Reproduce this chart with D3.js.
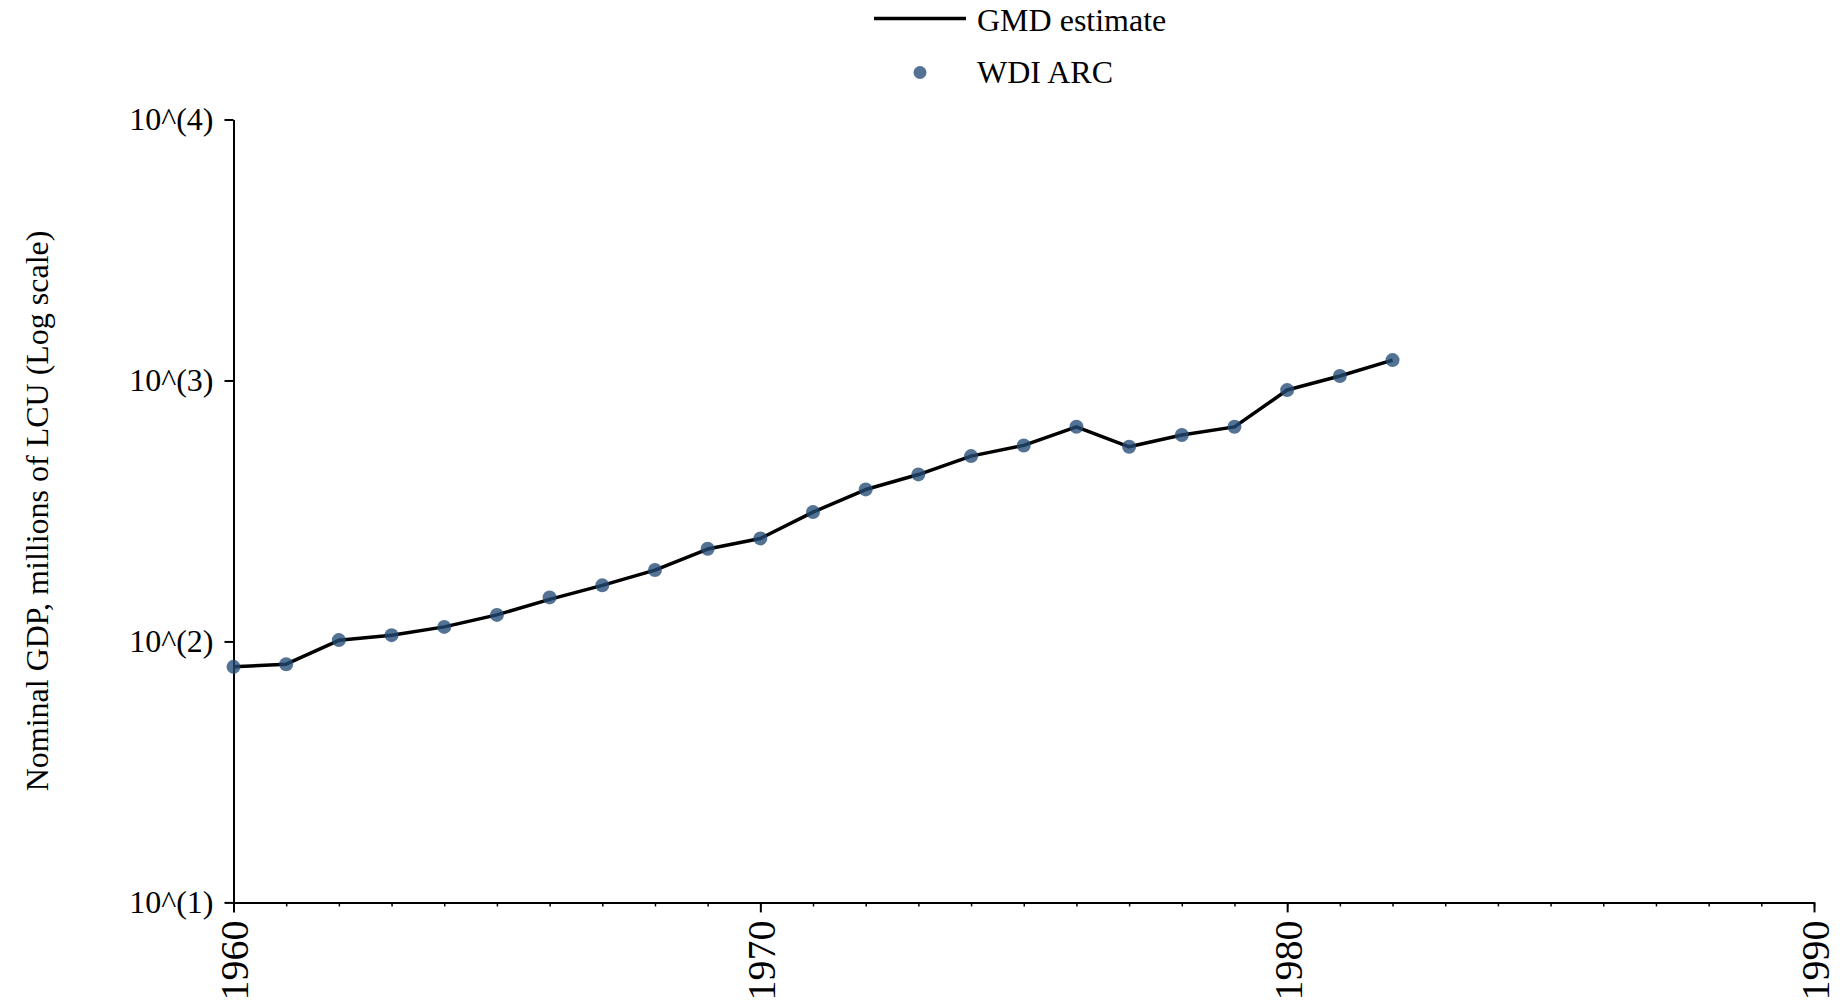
<!DOCTYPE html>
<html>
<head>
<meta charset="utf-8">
<script src="https://cdn.jsdelivr.net/npm/d3@7"></script>
<style>
  html, body { margin: 0; padding: 0; background: #fff; }
  svg { display: block; font-family: "Liberation Serif", "Times New Roman", serif; }
</style>
</head>
<body>
<div id="chart"></div>
<script>
// data ---------------------------------------------------------------------------------------
const years = [1960, 1961, 1962, 1963, 1964, 1965, 1966, 1967, 1968, 1969, 1970, 1971,
  1972, 1973, 1974, 1975, 1976, 1977, 1978, 1979, 1980, 1981, 1982];
// GMD estimate (line), millions of LCU
const gmdValues = [79.9, 81.8, 101, 105.7, 113.7, 126.4, 145, 164, 187.7, 226, 248, 313,
  382, 436, 513, 564, 664, 557, 618, 664, 919, 1040, 1197];
// WDI ARC (points)
const wdiValues = [79.9, 81.8, 101.2, 105.7, 113.7, 126.4, 147.5, 164, 187.7, 226.4, 248.2, 313,
  382.4, 436.5, 513, 563.6, 664.5, 557, 618, 664.5, 918.6, 1040, 1197];
const yTicks = [10, 100, 1000, 10000];
const xMajorTicks = [1960, 1970, 1980, 1990];
const xMinorTicks = d3.range(1960, 1991, 1);
const legendLabels = ['GMD estimate', 'WDI ARC'];
const yTitle = 'Nominal GDP, millions of LCU (Log scale)';

// svg ----------------------------------------------------------------------------------------
const width = 1840;
const height = 1008;
const margin = { top: 119.5, bottom: 105.6, left: 233.5, right: 26 };
const pointColor = 'rgb(36,74,118)';
const serif = '"Liberation Serif", "Times New Roman", serif';

const svg = d3.select('#chart').append('svg')
  .attr('width', width)
  .attr('height', height);

// scales -------------------------------------------------------------------------------------
const xScale = d3.scaleLinear()
  .domain([1960, 1990])
  .range([margin.left, width - margin.right]);
const yScale = d3.scaleLog()
  .domain([10, 10000])
  .range([height - margin.bottom, margin.top]);

// y axis -------------------------------------------------------------------------------------
const yAxis = svg.append('g')
  .attr('transform', 'translate(' + margin.left + ',0)')
  .call(d3.axisLeft(yScale)
    .tickValues(yTicks)
    .tickSize(9)
    .tickSizeOuter(0)
    .tickPadding(11)
    .tickFormat(d => '10^(' + Math.round(Math.log10(d)) + ')'));
yAxis.select('.domain').attr('stroke-width', 2);
yAxis.selectAll('.tick line').attr('stroke-width', 2);
yAxis.selectAll('.tick text')
  .attr('font-size', '32px')
  .attr('font-family', serif)
  .attr('fill', '#000');

// x axis (minor) -----------------------------------------------------------------------------
const xMinor = svg.append('g')
  .attr('transform', 'translate(0,' + (height - margin.bottom) + ')')
  .call(d3.axisBottom(xScale)
    .tickValues(xMinorTicks)
    .tickSize(4)
    .tickSizeOuter(0)
    .tickFormat(''));
xMinor.select('.domain').attr('stroke-width', 2);
xMinor.selectAll('.tick line').attr('stroke-width', 1.5);

// x axis (major) -----------------------------------------------------------------------------
const xMajor = svg.append('g')
  .attr('transform', 'translate(0,' + (height - margin.bottom) + ')')
  .call(d3.axisBottom(xScale)
    .tickValues(xMajorTicks)
    .tickSize(10)
    .tickSizeOuter(0)
    .tickFormat(d3.format('d')));
xMajor.select('.domain').remove();
xMajor.selectAll('.tick line').attr('stroke-width', 2);
xMajor.selectAll('.tick text')
  .attr('font-size', '40px')
  .attr('font-family', serif)
  .attr('fill', '#000')
  .attr('transform', 'rotate(-90)')
  .attr('text-anchor', 'end')
  .attr('x', -18)
  .attr('y', 0)
  .attr('dy', '0.35em');

// y title ------------------------------------------------------------------------------------
svg.append('text')
  .attr('transform', 'translate(37,' + ((margin.top + height - margin.bottom) / 2) + ') rotate(-90)')
  .attr('text-anchor', 'middle')
  .attr('dy', '0.35em')
  .attr('font-size', '32px')
  .text(yTitle);

// line ---------------------------------------------------------------------------------------
const line = d3.line()
  .x((d, i) => xScale(years[i]))
  .y(d => yScale(d));
svg.append('path')
  .datum(gmdValues)
  .attr('d', line)
  .attr('fill', 'none')
  .attr('stroke', '#000')
  .attr('stroke-width', 3.5)
  .attr('stroke-linejoin', 'round');

// points -------------------------------------------------------------------------------------
svg.selectAll('.wdi-point')
  .data(wdiValues)
  .enter()
  .append('circle')
  .attr('class', 'wdi-point')
  .attr('cx', (d, i) => xScale(years[i]))
  .attr('cy', d => yScale(d))
  .attr('r', 7)
  .attr('fill', pointColor)
  .attr('fill-opacity', 0.78);

// legend -------------------------------------------------------------------------------------
const legend = svg.append('g');
legend.append('line')
  .attr('x1', 874)
  .attr('x2', 966)
  .attr('y1', 18.5)
  .attr('y2', 18.5)
  .attr('stroke', '#000')
  .attr('stroke-width', 3.5);
legend.append('circle')
  .attr('cx', 920)
  .attr('cy', 72.5)
  .attr('r', 6.5)
  .attr('fill', pointColor)
  .attr('fill-opacity', 0.78);
legend.selectAll('.legend-text')
  .data(legendLabels)
  .enter()
  .append('text')
  .attr('class', 'legend-text')
  .attr('x', 977)
  .attr('y', (d, i) => 20 + i * 52)
  .attr('dy', '0.35em')
  .attr('font-size', '32px')
  .text(d => d);
</script>
</body>
</html>
